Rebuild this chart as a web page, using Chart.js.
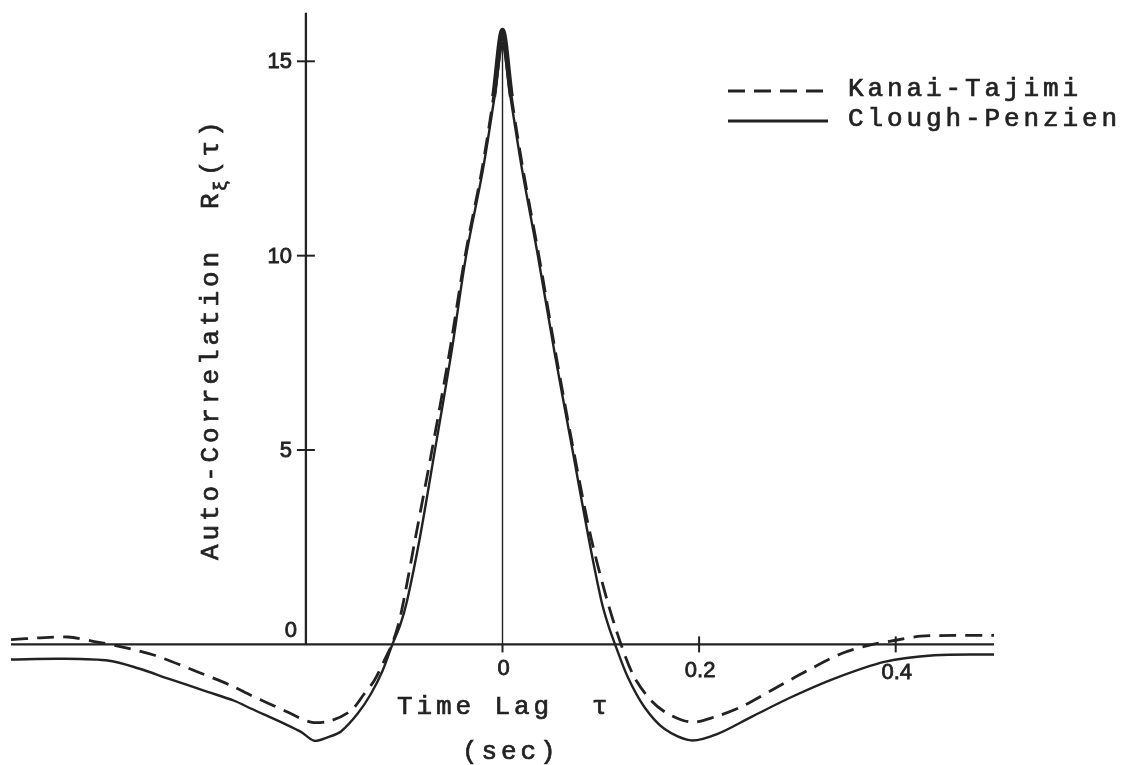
<!DOCTYPE html>
<html><head><meta charset="utf-8">
<script src="https://cdn.jsdelivr.net/npm/chart.js@4"></script>
<style>html,body{margin:0;padding:0;background:#fff}#wrap{width:1128px;height:765px;position:relative}canvas{display:block}</style>
</head><body><div id="wrap"><canvas id="c" width="1128" height="765"></canvas></div>
<script>
// ---- data ----
const seriesNames = ['Kanai-Tajimi', 'Clough-Penzien'];
const tauKT = [-0.5,-0.47,-0.442,-0.412,-0.39,-0.354,-0.31,-0.276,-0.256,-0.222,-0.195,-0.1745,-0.154,-0.1406,-0.1304,-0.1202,-0.1125,-0.106,-0.1005,-0.0885,-0.072,-0.054,-0.038,-0.021,-0.009,0,0.009,0.021,0.037,0.054,0.0725,0.090,0.1065,0.1206,0.134,0.151,0.168,0.192,0.2155,0.2426,0.2765,0.3105,0.3444,0.3715,0.3986,0.4257,0.4596,0.5];
const rKT = [0.12,0.17,0.19,0.06,-0.05,-0.28,-0.71,-1.06,-1.31,-1.70,-2.00,-1.96,-1.70,-1.27,-0.93,-0.41,0,0.5,1.13,2.75,4.96,7.5,10.0,12.2,14.1,15.8,14.1,12.2,10.0,7.5,4.96,2.75,1.13,0,-0.84,-1.44,-1.78,-2.00,-1.87,-1.61,-1.14,-0.67,-0.24,-0.03,0.10,0.21,0.23,0.23];
const tauCP = [-0.5,-0.45,-0.40,-0.37,-0.34,-0.30,-0.273,-0.256,-0.222,-0.205,-0.1915,-0.178,-0.1643,-0.1473,-0.1338,-0.1219,-0.112,-0.104,-0.097,-0.084,-0.069,-0.052,-0.037,-0.020,-0.008,0,0.008,0.020,0.036,0.053,0.0715,0.0875,0.1005,0.1075,0.1145,0.1274,0.1443,0.1646,0.1918,0.2189,0.2528,0.2935,0.3375,0.3884,0.4393,0.5];
const rCP = [-0.39,-0.37,-0.42,-0.62,-0.88,-1.22,-1.45,-1.65,-2.04,-2.25,-2.48,-2.39,-2.24,-1.78,-1.27,-0.67,0,0.5,1.13,2.75,4.96,7.5,10.0,12.2,14.1,15.4,14.1,12.2,10.0,7.5,4.96,2.75,1.13,0.5,0,-0.84,-1.61,-2.17,-2.47,-2.30,-1.87,-1.36,-0.88,-0.45,-0.28,-0.26];
const yTicks = [5, 10, 15];
const yTickLabels = ['5', '10', '15'];
const yZeroLabel = '0';
const xTicks = [0, 0.2, 0.4];
const xTickLabels = ['0', '0.2', '0.4'];
const yAxisAt = -0.2;
const yAxisTop = 16.25;
const xTitle = 'Time Lag  \u03C4';
const xUnit = '(sec)';
const yTitleMain = 'Auto-Correlation  R';
const yTitleSub = '\u03BE';
const yTitleTail = '(\u03C4)';

const INK = '#222222';
const MONO = '26px "Liberation Mono", "DejaVu Sans Mono", monospace';
const MONO_SP = '3.9px';
const NUM = '22px "Liberation Sans", Arial, sans-serif';

function monoText(ctx, s, x, y, align, font, sp) {
  ctx.font = font || MONO;
  if ('letterSpacing' in ctx) ctx.letterSpacing = sp || MONO_SP;
  ctx.textAlign = align || 'left';
  ctx.textBaseline = 'middle';
  ctx.lineWidth = 0.7;
  ctx.fillText(s, x, y);
  ctx.strokeText(s, x, y);
  const w = ctx.measureText(s).width;
  if ('letterSpacing' in ctx) ctx.letterSpacing = '0px';
  return w;
}

const axesPlugin = {
  id: 'paperAxes',
  beforeDatasetsDraw(chart) {
    const ctx = chart.ctx, xs = chart.scales.x, ys = chart.scales.y;
    const X = v => xs.getPixelForValue(v), Y = v => ys.getPixelForValue(v);
    ctx.save();
    ctx.strokeStyle = INK; ctx.fillStyle = INK; ctx.lineCap = 'butt';
    ctx.lineWidth = 2.3;
    ctx.beginPath(); ctx.moveTo(X(xs.min), Y(0)); ctx.lineTo(X(xs.max), Y(0)); ctx.stroke();
    ctx.beginPath(); ctx.moveTo(X(yAxisAt), Y(0)); ctx.lineTo(X(yAxisAt), Y(yAxisTop)); ctx.stroke();
    ctx.lineWidth = 2;
    yTicks.forEach(v => { ctx.beginPath(); ctx.moveTo(X(yAxisAt) - 9, Y(v)); ctx.lineTo(X(yAxisAt) + 9, Y(v)); ctx.stroke(); });
    xTicks.forEach(v => {
      ctx.beginPath();
      ctx.moveTo(X(v), v === 0 ? Y(0) : Y(0) - 8);
      ctx.lineTo(X(v), Y(0) + 8); ctx.stroke();
    });
    ctx.lineWidth = 1.4;
    ctx.beginPath(); ctx.moveTo(X(0), Y(0)); ctx.lineTo(X(0), Y(15.5)); ctx.stroke();
    ctx.font = NUM; ctx.textBaseline = 'middle'; ctx.lineWidth = 0.8;
    ctx.textAlign = 'right';
    yTicks.forEach((v, i) => { ctx.fillText(yTickLabels[i], X(yAxisAt) - 14, Y(v) + 1); ctx.strokeText(yTickLabels[i], X(yAxisAt) - 14, Y(v) + 1); });
    ctx.textAlign = 'center';
    ctx.fillText(yZeroLabel, X(yAxisAt) - 15, Y(0) - 13);
    ctx.strokeText(yZeroLabel, X(yAxisAt) - 15, Y(0) - 13);
    xTicks.forEach((v, i) => { ctx.fillText(xTickLabels[i], X(v) + 1, Y(0) + 25 + i * 2); ctx.strokeText(xTickLabels[i], X(v) + 1, Y(0) + 25 + i * 2); });
    ctx.restore();
  },
  afterDraw(chart) {
    const ctx = chart.ctx;
    ctx.save();
    ctx.fillStyle = INK; ctx.strokeStyle = INK;
    monoText(ctx, xTitle, 397, 707, 'left');
    monoText(ctx, xUnit, 462, 752, 'left');
    ctx.save();
    ctx.translate(211, 560);
    ctx.rotate(-Math.PI / 2);
    const w1 = monoText(ctx, yTitleMain, 0, 0, 'left');
    const w2 = monoText(ctx, yTitleSub, w1 - 2, 10, 'left', '19px "Liberation Mono", monospace', '0px');
    monoText(ctx, yTitleTail, w1 + w2 + 2, 0, 'left');
    ctx.restore();
    const ds = chart.data.datasets;
    const lx0 = 728, lx1 = 828, tx = 848;
    const rows = [89, 119];
    ds.forEach((d, i) => {
      ctx.save();
      ctx.lineWidth = 3; ctx.strokeStyle = INK;
      ctx.setLineDash(d.borderDash || []);
      ctx.beginPath(); ctx.moveTo(lx0, rows[i] + 2); ctx.lineTo(lx1, rows[i] + 2); ctx.stroke();
      ctx.restore();
      monoText(ctx, d.label, tx, rows[i], 'left');
    });
    ctx.restore();
  }
};

const toPts = (t, r) => t.map((x, i) => ({ x: x, y: r[i] }));
const nearPeak = c => Math.abs(c.p0.parsed.x) < 0.015 && Math.abs(c.p1.parsed.x) < 0.015;

new Chart(document.getElementById('c'), {
  type: 'scatter',
  data: {
    datasets: [
      { label: seriesNames[0], data: toPts(tauKT, rKT), showLine: true, borderColor: INK, borderWidth: 2.8,
        borderDash: [17, 9], pointRadius: 0, tension: 0.3, clip: false,
        segment: { borderDash: c => nearPeak(c) ? [] : undefined, borderWidth: c => nearPeak(c) ? 5 : undefined } },
      { label: seriesNames[1], data: toPts(tauCP, rCP), showLine: true, borderColor: INK, borderWidth: 2.4,
        pointRadius: 0, tension: 0.3, clip: false }
    ]
  },
  options: {
    responsive: false, animation: false, devicePixelRatio: 1,
    layout: { padding: { left: 11, right: 134, top: 3, bottom: 4 } },
    scales: {
      x: { type: 'linear', min: -0.5, max: 0.5, display: false },
      y: { type: 'linear', min: -3, max: 16.5, display: false }
    },
    plugins: { legend: { display: false }, tooltip: { enabled: false } }
  },
  plugins: [axesPlugin]
});
</script>
</body></html>
